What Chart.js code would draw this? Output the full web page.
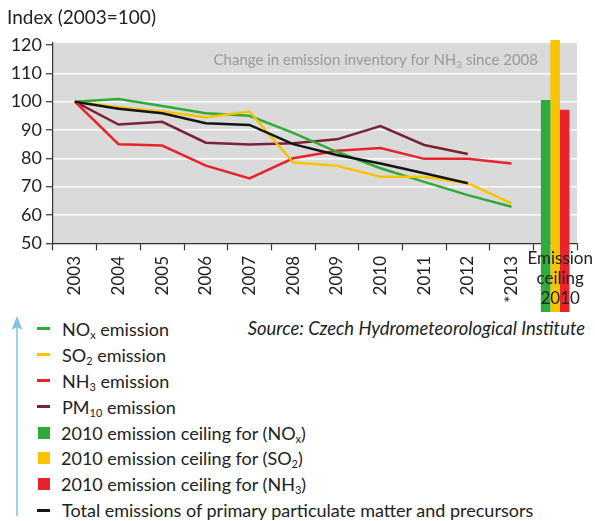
<!DOCTYPE html>
<html lang="en">
<head>
<meta charset="UTF-8">
<title>Emission index 2003-2013</title>
<script src="https://cdn.jsdelivr.net/npm/chart.js"></script>
<style>
  body { margin: 0; background: #fff; font-family: Lato, sans-serif; color: #222; }
  #wrap { position: relative; width: 595px; height: 521px; overflow: hidden; }
  #chartBox { position: absolute; left: 0; top: 0; width: 595px; height: 312px; }
  #legend { position: absolute; left: 36px; top: 316px; }
  .item { height: 25.9px; display: flex; align-items: center; font-size: 18px; white-space: nowrap; }
  .item sub { font-size: 11px; vertical-align: -3px; line-height: 0; }
  .sw-line { width: 13px; height: 3px; margin: 0 12px 0 1px; }
  .sw-box { width: 12px; height: 12px; margin: 0 11px 0 2px; }
  #source { position: absolute; right: 10px; top: 317px; font-style: italic; font-size: 18.4px; }
  #arrow { position: absolute; left: 9px; top: 316px; }
</style>
</head>
<body>
<div id="wrap">
  <div id="chartBox"><canvas id="chart"></canvas></div>
  <svg id="arrow" width="16" height="202">
    <line x1="8" y1="10" x2="8" y2="200" stroke="#7cc4e8" stroke-width="1.5"/>
    <polygon points="8,0 2.5,14 8,11 13.5,14" fill="#7cc4e8"/>
  </svg>
  <div id="legend"></div>
  <div id="source">Source: Czech Hydrometeorological Institute</div>
</div>

<script>
// categories on the x axis
const years = ['2003', '2004', '2005', '2006', '2007', '2008', '2009', '2010', '2011', '2012', '*2013'];
const categories = [...years, ['Emission', 'ceiling', '2010']];

// index values (2003 = 100)
const noxValues   = [100, 100.9, 98.5, 95.9, 95.0, 89.0, 82.3, 76.5, 71.7, 67.0, 62.9, null];
const so2Values   = [100, 98.0, 96.5, 94.5, 96.5, 78.5, 77.4, 73.5, 73.5, 71.2, 64.1, null];
const nh3Values   = [100, 85.0, 84.5, 77.4, 72.9, 80.0, 82.7, 83.6, 79.8, 79.8, 78.2, null];
const pm10Values  = [100, 91.9, 92.9, 85.5, 84.9, 85.3, 86.7, 91.4, 84.7, 81.5, null, null];
const totalValues = [100, 97.5, 95.9, 92.4, 91.8, 85.0, 81.2, 78.2, 74.7, 71.2, null, null];

// 2010 emission ceilings, shown in the last category
const ceilingNox = 100.6;
const ceilingSo2 = 121.8;
const ceilingNh3 = 97.1;

// y axis ticks
const yTicks = [50, 60, 70, 80, 90, 100, 110, 120];

const green = '#2fab3c';
const yellow = '#f8c300';
const red = '#e8232b';
const maroon = '#7b2336';
const black = '#151515';

function lastOnly(v) {
  return categories.map((c, i) => i === categories.length - 1 ? v : null);
}

const legendItems = [
  { type: 'line', color: green,  html: 'NO<sub>x</sub> emission' },
  { type: 'line', color: yellow, html: 'SO<sub>2</sub> emission' },
  { type: 'line', color: red,    html: 'NH<sub>3</sub> emission' },
  { type: 'line', color: maroon, html: 'PM<sub>10</sub> emission' },
  { type: 'box',  color: green,  html: '2010 emission ceiling for (NO<sub>x</sub>)' },
  { type: 'box',  color: yellow, html: '2010 emission ceiling for (SO<sub>2</sub>)' },
  { type: 'box',  color: red,    html: '2010 emission ceiling for (NH<sub>3</sub>)' },
  { type: 'line', color: black,  html: 'Total emissions of primary particulate matter and precursors' }
];

const legendEl = document.getElementById('legend');
legendItems.forEach(it => {
  const row = document.createElement('div');
  row.className = 'item';
  const sw = document.createElement('span');
  sw.className = it.type === 'line' ? 'sw-line' : 'sw-box';
  sw.style.background = it.color;
  const txt = document.createElement('span');
  txt.innerHTML = it.html;
  row.appendChild(sw);
  row.appendChild(txt);
  legendEl.appendChild(row);
});

// gray plot background, title, x labels and the note
const decorations = {
  id: 'decorations',
  beforeDraw(chart) {
    const { ctx, chartArea } = chart;
    ctx.save();
    ctx.fillStyle = '#dadada';
    ctx.fillRect(chartArea.left, chartArea.top, chartArea.right - chartArea.left, chartArea.bottom - chartArea.top);
    ctx.restore();
  },
  afterDraw(chart) {
    const ctx = chart.ctx;
    const xs = chart.scales.x;
    ctx.save();
    ctx.fillStyle = '#222';
    ctx.font = '19px Lato';
    ctx.textAlign = 'left';
    ctx.textBaseline = 'alphabetic';
    ctx.fillText('Index (2003=100)', 7, 24);

    ctx.font = '17px Lato';
    categories.forEach((c, i) => {
      const x = xs.getPixelForValue(i);
      if (Array.isArray(c)) {
        ctx.textAlign = 'center';
        ctx.textBaseline = 'middle';
        c.forEach((line, j) => ctx.fillText(line, x + 5, 259 + j * 20));
      } else {
        ctx.save();
        ctx.translate(x, 256);
        ctx.rotate(-Math.PI / 2);
        ctx.textAlign = 'right';
        ctx.textBaseline = 'middle';
        ctx.fillText(c, 0, 0);
        ctx.restore();
      }
    });

    // note about the NH3 inventory
    ctx.fillStyle = '#999';
    ctx.textBaseline = 'alphabetic';
    ctx.textAlign = 'left';
    const a = 'Change in emission inventory for NH', s = '3', b = ' since 2008';
    ctx.font = '15px Lato';
    const wa = ctx.measureText(a).width, wb = ctx.measureText(b).width;
    ctx.font = '10px Lato';
    const ws = ctx.measureText(s).width;
    let x0 = 538 - (wa + ws + wb);
    ctx.font = '15px Lato';
    ctx.fillText(a, x0, 65);
    ctx.font = '10px Lato';
    ctx.fillText(s, x0 + wa, 68);
    ctx.font = '15px Lato';
    ctx.fillText(b, x0 + wa + ws, 65);
    ctx.restore();
  }
};

function lineSet(label, data, color, order) {
  return { type: 'line', label, data, borderColor: color, backgroundColor: color,
           borderWidth: 2.5, pointRadius: 0, tension: 0, spanGaps: false, order };
}

function barSet(label, value, color) {
  return { type: 'bar', label, data: lastOnly(value), backgroundColor: color, borderWidth: 0,
           categoryPercentage: 0.655, barPercentage: 1, clip: false, order: 10 };
}

new Chart(document.getElementById('chart'), {
  data: {
    labels: categories,
    datasets: [
      lineSet('Total', totalValues, black, 1),
      lineSet('NOx', noxValues, green, 3),
      lineSet('SO2', so2Values, yellow, 2),
      lineSet('NH3', nh3Values, red, 4),
      lineSet('PM10', pm10Values, maroon, 5),
      barSet('Ceiling NOx', ceilingNox, green),
      barSet('Ceiling SO2', ceilingSo2, yellow),
      barSet('Ceiling NH3', ceilingNh3, red)
    ]
  },
  options: {
    responsive: true,
    maintainAspectRatio: false,
    animation: false,
    layout: { padding: { top: 43, right: 18, left: 0, bottom: 0 } },
    plugins: { legend: { display: false }, tooltip: { enabled: false } },
    scales: {
      x: {
        type: 'category',
        offset: true,
        grid: { offset: true, drawOnChartArea: false, tickLength: 7, tickColor: '#333', tickWidth: 1.2 },
        border: { color: '#333', width: 1.2 },
        ticks: { display: false },
        afterFit(scale) { scale.height = 312 - 243.3; }
      },
      y: {
        min: 50,
        max: 120.7,
        ticks: { stepSize: 10, color: '#222', font: { family: 'Lato', size: 18 }, padding: 4 },
        afterBuildTicks(scale) { scale.ticks = yTicks.map(v => ({ value: v })); },
        grid: {
          color: c => (c.tick && c.tick.value > 50 && c.tick.value < 120) ? '#ffffff' : 'rgba(0,0,0,0)',
          lineWidth: 1.5,
          tickLength: 7,
          tickColor: '#333',
          tickWidth: 1.2
        },
        border: { color: '#333', width: 1.2 },
        afterFit(scale) { scale.width = 53; }
      }
    }
  },
  plugins: [decorations]
});
</script>
</body>
</html>
